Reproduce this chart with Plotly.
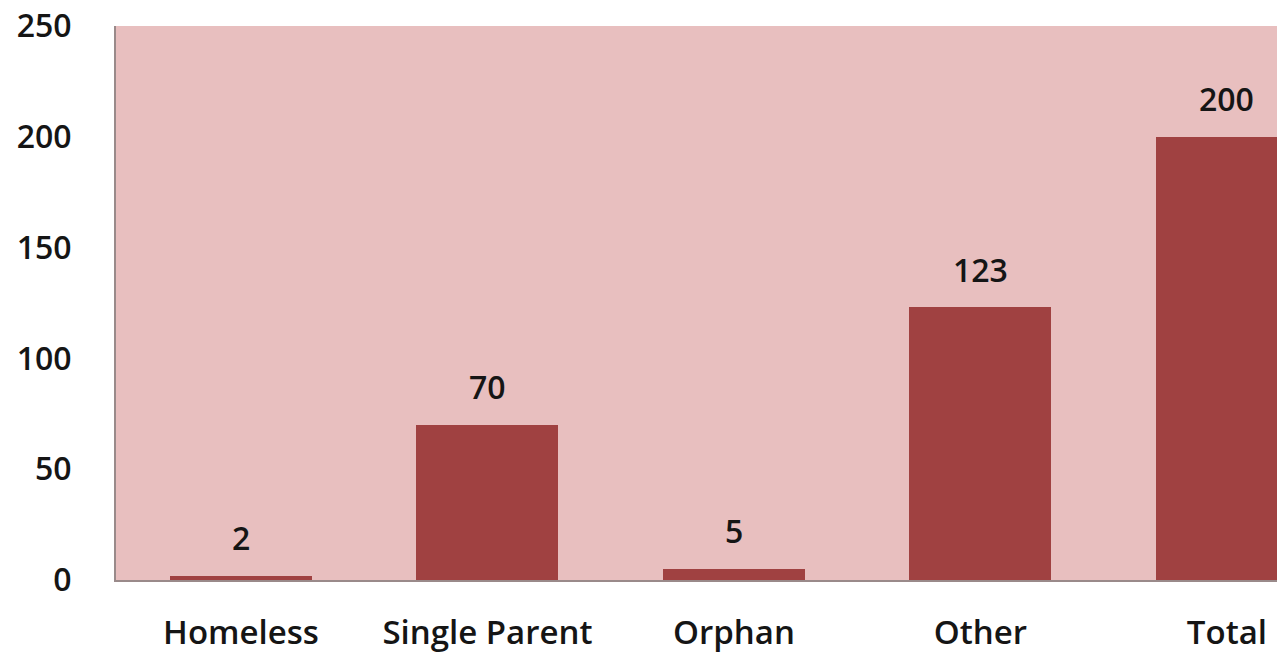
import plotly.graph_objects as go

categories = ["Homeless", "Single Parent", "Orphan", "Other", "Total"]
counts = [2, 70, 5, 123, 200]
y_ticks = [0, 50, 100, 150, 200, 250]

bar_color = "#a04141"
plot_bg = "#e8bfbf"
font_family = "'Open Sans', Lato, sans-serif"
text_font = dict(family=font_family, size=32, color="#151515", weight=600)
cat_font = dict(family=font_family, size=33, color="#151515", weight=600)

fig = go.Figure(
    go.Bar(
        x=list(range(len(categories))),
        y=counts,
        width=0.576,
        marker=dict(color=bar_color, line=dict(width=0)),
        hoverinfo="skip",
    )
)

# value labels floating above each bar
for i, v in enumerate(counts):
    fig.add_annotation(
        x=i, y=v, text=str(v), showarrow=False, yshift=38,
        font=text_font,
    )

fig.update_layout(
    width=1283, height=654,
    margin=dict(l=116, r=6, t=26, b=74),
    paper_bgcolor="white",
    plot_bgcolor=plot_bg,
    showlegend=False,
    bargap=0,
)
fig.update_xaxes(
    range=[-0.507, 4.203],
    tickvals=list(range(len(categories))),
    ticktext=categories,
    tickfont=cat_font,
    ticks="outside", ticklen=22, tickcolor="rgba(0,0,0,0)",
    showgrid=False, zeroline=False, automargin=False,
    showline=True, linecolor="#9a8a8a", linewidth=2,
)
fig.update_yaxes(
    range=[0, 250],
    tickvals=y_ticks,
    tickfont=text_font,
    ticks="outside", ticklen=36, tickcolor="rgba(0,0,0,0)",
    showgrid=False, zeroline=False, automargin=False,
    showline=True, linecolor="#9a8a8a", linewidth=2,
)

fig.write_html("out.html")
